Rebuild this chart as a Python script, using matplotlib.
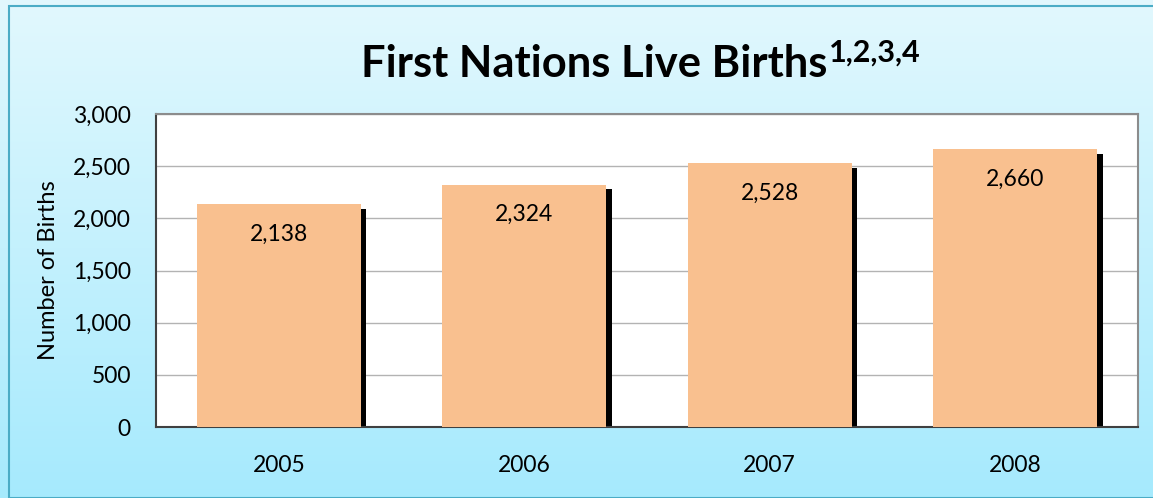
import matplotlib
matplotlib.use("Agg")
import matplotlib.pyplot as plt
import numpy as np
from matplotlib.patches import Rectangle

# data
years = ["2005", "2006", "2007", "2008"]
births = [2138, 2324, 2528, 2660]
y_ticks = [0, 500, 1000, 1500, 2000, 2500, 3000]

W, H = 1153, 498
plt.rcParams["font.family"] = ["Lato", "DejaVu Sans"]
FS = 16.5

fig = plt.figure(figsize=(W / 100, H / 100), dpi=100)

# gradient background (light cyan at top, stronger cyan at bottom)
bg = fig.add_axes([0, 0, 1, 1], zorder=-10)
grad = np.linspace(0, 1, 256).reshape(-1, 1)
top = np.array([0xe2, 0xf8, 0xfe]) / 255
bot = np.array([0xa6, 0xea, 0xfd]) / 255
img = top + grad[..., None] * (bot - top)
bg.imshow(img, aspect="auto", extent=[0, 1, 0, 1], origin="upper")
bg.add_patch(Rectangle((9 / W, 0), 1.2, 1 - 6 / H, fill=False,
                       edgecolor="#4bacc6", lw=1.5, transform=bg.transAxes))
bg.set_axis_off()

ax = fig.add_axes([156 / W, 1 - 427 / H, (1138 - 156) / W, (427 - 114) / H])
ax.set_facecolor("white")

x = np.arange(len(years))
width = 0.67
# drop shadow: black bar shifted right and down
ax.bar(x + 0.022, np.array(births) - 45, width=width, color="black", zorder=2)
ax.bar(x, births, width=width, color="#f9c08f", zorder=3)
for xi, v in zip(x, births):
    ax.text(xi, v - 290, f"{v:,}", ha="center", va="center", fontsize=FS,
            color="black", zorder=4)

ax.set_xlim(-0.5, len(years) - 0.5)
ax.set_ylim(0, 3000)
ax.set_yticks(y_ticks)
ax.set_yticklabels([f"{t:,}" for t in y_ticks])
ax.set_xticks(x)
ax.set_xticklabels(years)
ax.tick_params(axis="both", length=0, labelsize=FS)
ax.tick_params(axis="x", pad=20)
ax.tick_params(axis="y", pad=18)
ax.yaxis.grid(True, color="#b3b3b3", lw=1)
ax.set_axisbelow(True)
for side in ["top", "right"]:
    ax.spines[side].set_color("#8c8c8c")
    ax.spines[side].set_linewidth(1.5)
for side in ["left", "bottom"]:
    ax.spines[side].set_color("#404040")
    ax.spines[side].set_linewidth(1.5)
ax.set_ylabel("Number of Births", fontsize=17, labelpad=10)

t = fig.text(361 / W, 1 - 77 / H, "First Nations Live Births", ha="left", va="baseline",
             fontsize=31.3, fontweight="bold")
ax.annotate("1,2,3,4", xy=(1, 1), xycoords=t, xytext=(1, 4), textcoords="offset points",
            ha="left", va="top", fontsize=22, fontweight="bold", annotation_clip=False)

fig.savefig("out.png", dpi=100)
